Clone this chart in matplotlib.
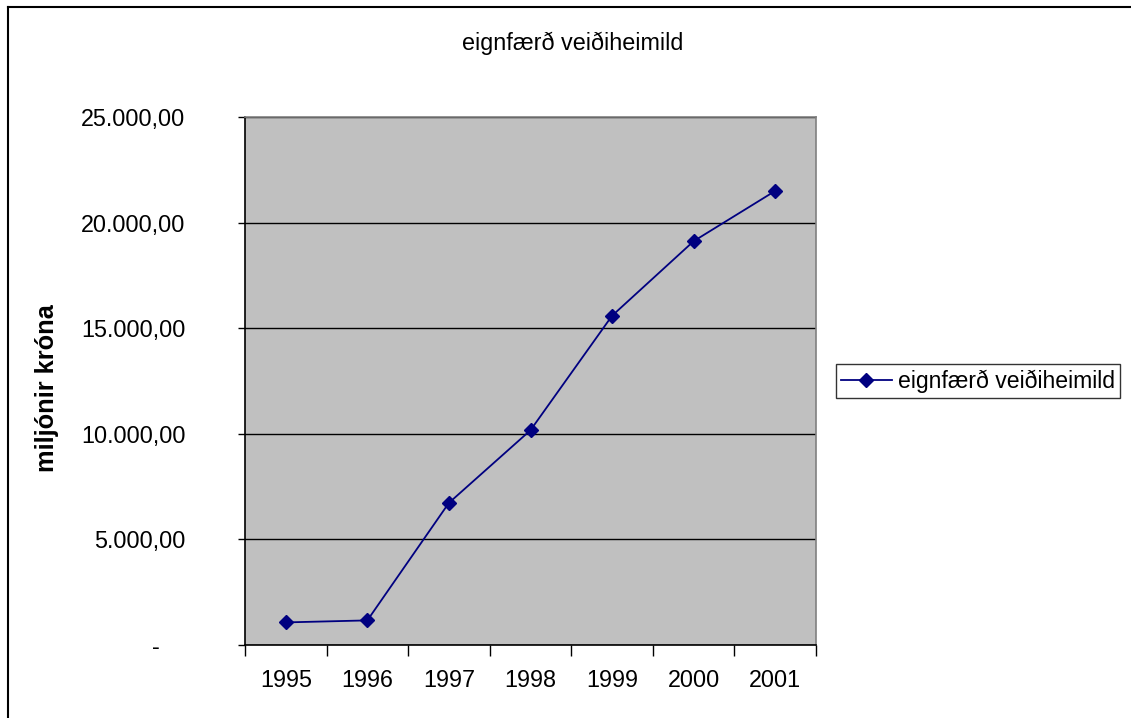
import matplotlib
matplotlib.use('Agg')
import matplotlib.pyplot as plt
from matplotlib.lines import Line2D

plt.rcParams['font.family'] = ['Liberation Sans', 'DejaVu Sans']

years = ['1995', '1996', '1997', '1998', '1999', '2000', '2001']
values = [1070, 1165, 6730, 10170, 15590, 19120, 21500]
yticks = [0, 5000, 10000, 15000, 20000, 25000]
title = 'eignfærð veiðiheimild'
series_name = 'eignfærð veiðiheimild'
ylabel = 'miljónir króna'


def fmt(v):
    if v == 0:
        return '-    '
    s = '{:,.2f}'.format(v)
    return s.replace(',', 'X').replace('.', ',').replace('X', '.')


fig = plt.figure(figsize=(11.31, 7.18), dpi=100)
ax = fig.add_axes([245/1131, 1-645/718, (816-245)/1131, (645-117)/718])
ax.set_facecolor('#C0C0C0')

x = list(range(len(years)))
ax.plot(x, values, color='#000080', lw=1.3, marker='D', ms=7.5,
        label=series_name, zorder=3)

ax.set_xlim(-0.5, len(years) - 0.5)
ax.set_ylim(0, 25000)

# category boundaries as major ticks, labels on the centres
ax.set_xticks([i + 0.5 for i in range(-1, len(years))])
ax.set_xticklabels([])
ax.set_xticks(x, minor=True)
ax.set_xticklabels(years, minor=True)
ax.tick_params(axis='x', which='major', direction='out', length=8, width=1)
ax.tick_params(axis='x', which='minor', length=0, pad=17, labelsize=16.8)

ax.set_yticks(yticks)
ax.set_yticklabels([fmt(v) for v in yticks])
ax.tick_params(axis='y', direction='out', length=5, width=1, pad=38, labelsize=16.8)

ax.grid(axis='y', color='black', lw=1)
ax.set_axisbelow(True)

for side in ['left', 'bottom']:
    ax.spines[side].set_color('black')
    ax.spines[side].set_linewidth(1.2)
for side in ['top', 'right']:
    ax.spines[side].set_color('#808080')
    ax.spines[side].set_linewidth(1.2)

fig.text(573/1131, 1-43/718, title, ha='center', va='center', fontsize=16.8)
fig.text(47/1131, 1-388/718, ylabel, ha='center', va='center', rotation=90,
         fontsize=18.3, fontweight='bold')

leg = ax.legend(loc='center left', bbox_to_anchor=(836/1131, 1-381/718),
                bbox_transform=fig.transFigure, fontsize=16.6, frameon=True,
                fancybox=False, handlelength=2.2, handletextpad=0.25,
                borderpad=0.22, borderaxespad=0)
leg.get_frame().set_edgecolor('black')
leg.get_frame().set_linewidth(1)

# outer chart border (only left and top are inside the picture)
fig.add_artist(Line2D([8/1131, 8/1131], [0, 1-7/718], color='black', lw=1.5,
                      transform=fig.transFigure))
fig.add_artist(Line2D([8/1131, 1], [1-7/718, 1-7/718], color='black', lw=1.5,
                      transform=fig.transFigure))

fig.savefig('out.png', dpi=100)
